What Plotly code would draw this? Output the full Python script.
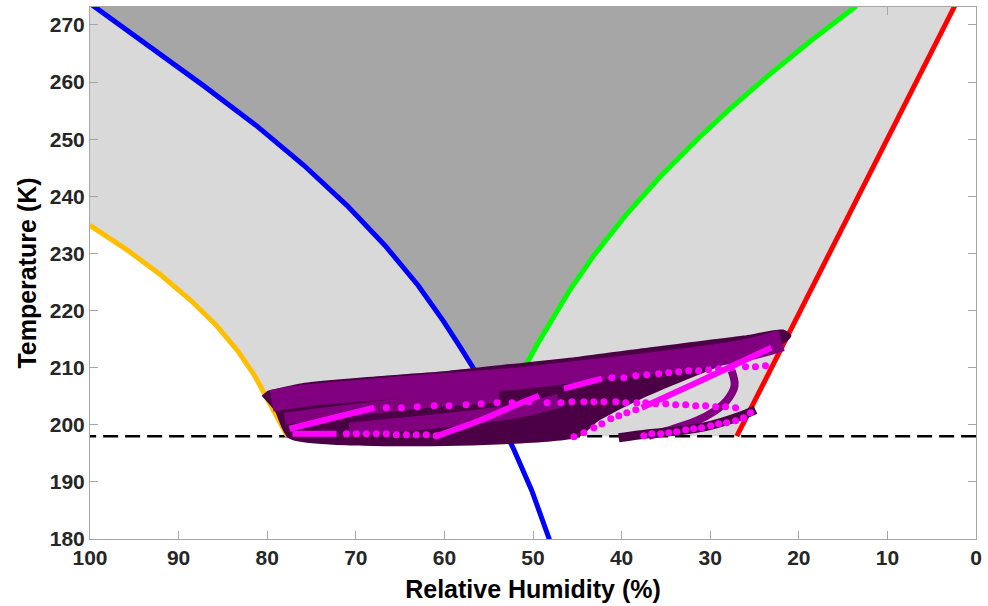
import numpy as np
import plotly.graph_objects as go

# ---------------- data (RH %, T K) ----------------
blue_rh = [99.77, 93.51, 87.27, 81.29, 75.87, 71.01, 66.71, 62.96, 60.15, 58.32, 56.76, 54.79, 52.25, 50.12, 48.09]
blue_t = [273.51, 266.49, 259.47, 252.46, 245.44, 238.42, 231.40, 224.39, 218.25, 213.86, 210.0, 204.21, 195.96, 188.42, 179.65]

green_rh = [13.51, 18.54, 23.39, 27.93, 31.22, 35.50, 39.55, 43.13, 45.88, 47.29, 49.27, 50.72, 51.77]
green_t = [273.33, 267.37, 261.23, 255.09, 250.35, 243.68, 236.67, 229.65, 223.51, 220.0, 214.74, 210.70, 207.72]

red_rh = [2.4, 15.2, 27.0]
red_t = [273.33, 234.0, 198.0]

orange_rh = [100.0, 95.73, 91.93, 88.60, 85.73, 83.34, 81.42, 79.56, 77.7]
orange_t = [234.91, 230.53, 226.14, 221.75, 217.37, 212.98, 208.6, 203.33, 198.0]

t_min_line = 198.0
shade_floor_t = 207.72
t_top = 273.5

# envelope of the dense trajectory cloud
env_rh = [79.95, 75.79, 66.78, 59.46, 52.14, 44.82, 36.94, 26.24, 21.73, 20.83, 21.51, 29.05, 37.50, 42.57, 45.05, 77.48, 79.17, 80.63]
env_t = [205.96, 207.37, 208.60, 209.47, 210.70, 211.93, 213.51, 215.61, 216.67, 215.61, 214.39, 210.18, 204.74, 200.70, 197.72, 197.54, 202.46, 205.09]

# purple trajectories
p1_rh = [79.50, 75.79, 66.78, 59.46, 52.14, 44.82, 36.94, 26.24, 21.96]
p1_t = [204.21, 205.09, 206.32, 207.19, 208.07, 209.30, 210.70, 212.98, 214.74]
p2_rh = [78.04, 69.03, 60.59, 53.83]
p2_t = [201.05, 202.81, 204.21, 204.91]
p3_rh = [70.72, 65.09, 58.33, 51.58, 47.07]
p3_t = [199.12, 200.0, 201.05, 202.46, 204.21]
p4_rh = [27.59, 27.25, 28.15, 29.62, 31.53, 34.12, 36.94]
p4_t = [209.47, 206.84, 204.21, 202.28, 200.70, 199.30, 198.07]
p5_rh = [40.32, 36.94, 33.56, 30.18, 26.80, 24.89]
p5_t = [197.72, 198.42, 198.95, 199.82, 201.40, 202.63]

# magenta trajectories
m1_line_rh = [77.48, 67.91]
m1_line_t = [199.30, 202.98]
m1_dot_rh = [66.55, 64.86, 63.06, 61.15, 59.46, 57.55, 55.86, 54.05, 52.36, 50.45, 48.42, 46.85, 45.61, 44.26,
             43.13, 42.00, 40.65, 39.53, 38.29, 37.27, 36.15, 35.02, 33.90, 32.77, 31.64, 30.52, 29.39, 28.27, 27.14]
m1_dot_t = [202.98, 202.98, 203.16, 203.33, 203.33, 203.51, 203.68, 203.86, 203.86, 204.04, 203.86, 203.86, 204.04, 204.04,
            204.04, 204.04, 204.04, 203.86, 203.86, 203.86, 203.68, 203.68, 203.51, 203.51, 203.33, 203.33, 203.16, 203.16, 202.98]

m3_line_rh = [77.14, 72.18]
m3_line_t = [198.42, 198.42]
m3_dot_rh = [71.06, 69.93, 68.81, 67.68, 66.55, 65.43, 64.30, 63.18, 62.05, 60.92]
m3_dot_t = [198.42, 198.42, 198.42, 198.42, 198.42, 198.25, 198.25, 198.25, 198.25, 198.07]

m2_line_rh = [60.81, 56.08, 52.14, 49.32]
m2_line_t = [198.07, 200.70, 203.33, 205.09]

m7_line_rh = [46.51, 42.23]
m7_line_t = [206.32, 208.07]
m7_dot_rh = [41.10, 39.75, 38.40, 37.16, 35.81, 34.68, 33.56, 32.43, 31.31, 30.18, 29.05, 27.59, 26.01, 24.89, 23.76]
m7_dot_t = [208.25, 208.25, 208.60, 208.77, 208.95, 209.12, 209.30, 209.47, 209.47, 209.65, 209.82, 210.0, 210.18, 210.18, 210.35]

m4_dot_rh = [45.38, 44.26, 43.13, 42.23, 41.22, 40.32, 39.41, 38.40]
m4_dot_t = [197.89, 198.60, 199.47, 200.18, 201.05, 201.58, 202.11, 202.63]
m4_line_rh = [37.73, 31.31, 23.09]
m4_line_t = [202.98, 207.54, 213.51]

m5_dot_rh = [37.50, 36.60, 35.59, 34.68, 33.78, 32.77, 31.87, 30.97, 29.95, 29.05, 28.15, 27.14, 26.24, 25.45]
m5_dot_t = [198.07, 198.42, 198.42, 198.60, 198.77, 199.12, 199.30, 199.47, 199.82, 200.18, 200.35, 200.70, 201.23, 202.11]

x_ticks = [0, 10, 20, 30, 40, 50, 60, 70, 80, 90, 100]
y_ticks = [180, 190, 200, 210, 220, 230, 240, 250, 260, 270]

# ---------------- colours ----------------
LIGHT = "#d9d9d9"
DARK = "#a6a6a6"
DPURP = "#4b0046"
PURP = "#800080"
MAG = "#ff00ff"

fig = go.Figure()

# light grey region
lg_x = [100.0] + orange_rh + red_rh[::-1] + [100.0]
lg_y = [t_top] + orange_t + red_t[::-1] + [t_top]
fig.add_trace(go.Scatter(x=lg_x, y=lg_y, fill="toself", fillcolor=LIGHT, line=dict(width=0),
                         mode="lines", hoverinfo="skip", showlegend=False))

# dark grey region between blue and green
b_sel = [(r, t) for r, t in zip(blue_rh, blue_t) if t >= 210.0]
b_floor = float(np.interp(shade_floor_t, blue_t[::-1], blue_rh[::-1]))
dg_x = [r for r, t in b_sel] + [b_floor] + green_rh[::-1]
dg_y = [t for r, t in b_sel] + [shade_floor_t] + green_t[::-1]
fig.add_trace(go.Scatter(x=dg_x, y=dg_y, fill="toself", fillcolor=DARK, line=dict(width=0),
                         mode="lines", hoverinfo="skip", showlegend=False))

# dashed threshold
fig.add_trace(go.Scatter(x=[101, -1], y=[t_min_line, t_min_line], mode="lines",
                         line=dict(color="black", width=2.5, dash="15px,7px"), showlegend=False))

# threshold curves
for xs, ys, c in [(orange_rh, orange_t, "#ffbf00"), (blue_rh, blue_t, "#0000ff"),
                  (green_rh, green_t, "#00ff00"), (red_rh, red_t, "#ff0000")]:
    fig.add_trace(go.Scatter(x=xs, y=ys, mode="lines", line=dict(color=c, width=5), showlegend=False))

# trajectory cloud
fig.add_trace(go.Scatter(x=env_rh, y=env_t, fill="toself", fillcolor=DPURP, mode="lines",
                         line=dict(color=DPURP, width=0, shape="spline", smoothing=0.6), showlegend=False))
for xs, ys, w, c in [(p1_rh, p1_t, 22, PURP), (p2_rh, p2_t, 12, PURP), (p3_rh, p3_t, 14, PURP),
                     (p4_rh, p4_t, 8, PURP), (p5_rh, p5_t, 9, DPURP)]:
    fig.add_trace(go.Scatter(x=xs, y=ys, mode="lines", line=dict(color=c, width=w, shape="spline"),
                             showlegend=False))

for xs, ys in [(m1_line_rh, m1_line_t), (m3_line_rh, m3_line_t), (m2_line_rh, m2_line_t),
               (m7_line_rh, m7_line_t), (m4_line_rh, m4_line_t)]:
    fig.add_trace(go.Scatter(x=xs, y=ys, mode="lines", line=dict(color=MAG, width=6, shape="spline"),
                             showlegend=False))
for xs, ys in [(m1_dot_rh, m1_dot_t), (m3_dot_rh, m3_dot_t), (m7_dot_rh, m7_dot_t),
               (m4_dot_rh, m4_dot_t), (m5_dot_rh, m5_dot_t)]:
    fig.add_trace(go.Scatter(x=xs, y=ys, mode="markers", marker=dict(color=MAG, size=7, line=dict(width=0)),
                             showlegend=False))

tickfont = dict(family="Liberation Sans", size=21, color="#262626", weight="bold")
titlefont = dict(family="Liberation Sans", size=25, color="black", weight="bold")
axis_common = dict(showgrid=False, zeroline=False, showline=True, linecolor="#a6a6a6", linewidth=1,
                   mirror="ticks", ticks="inside", ticklen=8, tickcolor="#a6a6a6", tickwidth=1,
                   tickfont=tickfont)

fig.update_layout(
    width=988, height=606,
    margin=dict(l=90, r=10, t=6, b=67),
    paper_bgcolor="white", plot_bgcolor="white",
    xaxis=dict(range=[100, 0], tickvals=x_ticks, ticktext=[str(v) for v in x_ticks],
               title=dict(text="Relative Humidity (%)", font=titlefont, standoff=12), **axis_common),
    yaxis=dict(range=[180, 273.15], tickvals=y_ticks, ticktext=[str(v) for v in y_ticks],
               title=dict(text="Temperature (K)", font=titlefont, standoff=6), **axis_common),
)

fig.write_html("out.html")
